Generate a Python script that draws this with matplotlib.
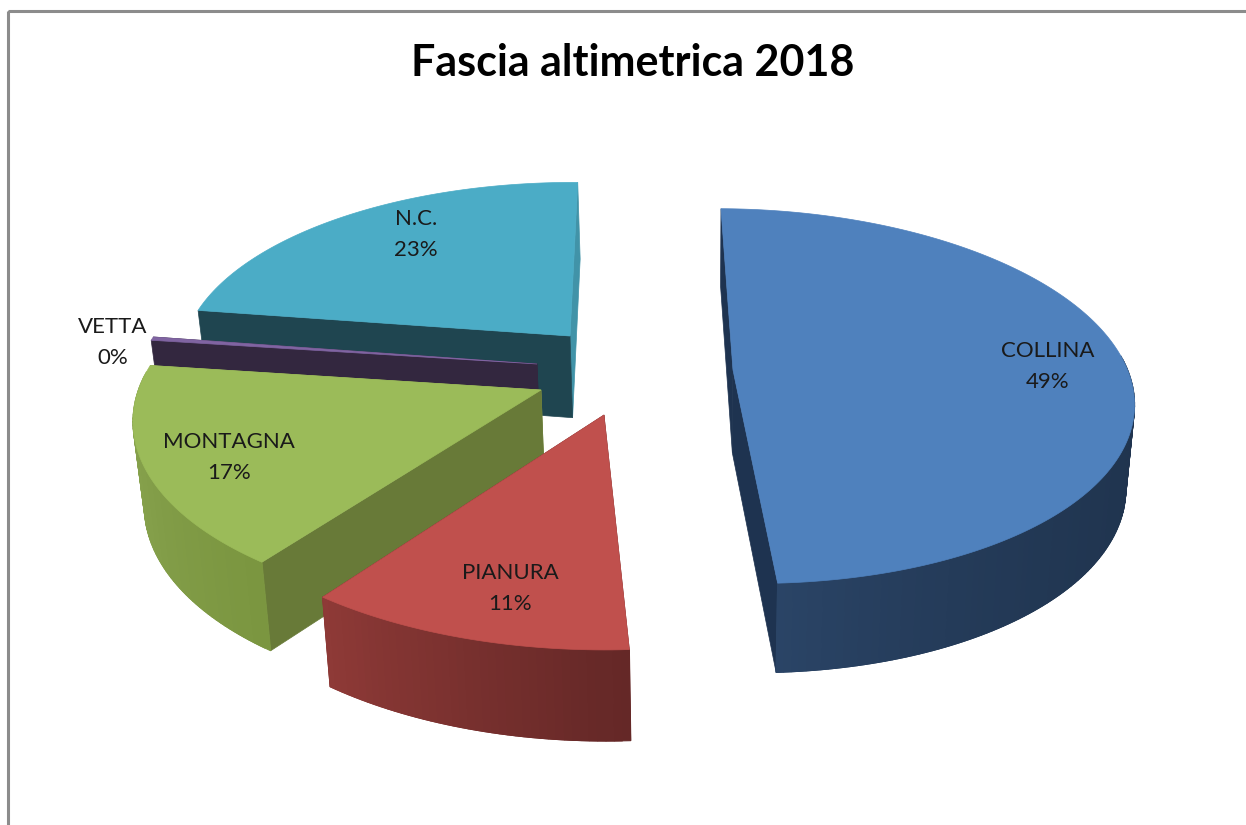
import numpy as np
import matplotlib
matplotlib.use("Agg")
import matplotlib.pyplot as plt
from matplotlib.patches import Polygon, Rectangle
from matplotlib.colors import to_rgb

title = "Fascia altimetrica 2018"
categories = ["COLLINA", "PIANURA", "MONTAGNA", "VETTA", "N.C."]
values = [49.0, 11.0, 16.9, 0.3, 22.8]

# styling / layout, per category
top_cols = ["#4F81BD", "#C0504D", "#9BBB59", "#8064A2", "#4BACC6"]
wall_start = ["#1F334D", "#652827", "#7B9640", "#33273F", "#1F4550"]   # outer wall, first angle
wall_end = ["#2A4466", "#8F3A37", "#8DA854", "#33273F", "#1F4550"]     # outer wall, last angle
wall_gamma = [5.0, 1.0, 1.0, 1.0, 1.0]
rad_start = ["#1E3350", "#652827", "#687A38", "#33273F", "#1F4550"]   # radial wall at start angle
rad_end = ["#1E3350", "#652827", "#8A9F55", "#33273F", "#4193A8"]      # radial wall at end angle
apex_px = [(733, 370), (604, 415), (541, 390), (537, 364), (570, 336)]
radius_scale = [1.0, 1.02, 1.005, 1.012, 1.0]
label_px = [(1048, 366.5), (510, 588.5), (229, 457.5), (113, 342.5), (416, 234.5)]
draw_order = [4, 3, 2, 1, 0]

CX, CY, A, B, K, H = 600.0, 378.0, 397.0, 186.0, 0.14, 83.0
VX, CONVERGE = 700.0, 0.02
ROTATION = np.radians(0.7)


def project(X, Y, z=0.0):
    s = 1.0 / (1.0 + K * Y)
    px = CX + A * X * s
    return px + z * CONVERGE * (VX - px), CY - B * Y * s + z * H * np.sqrt(s)


def unproject(px, py):
    v = (CY - py) / B
    Y = v / (1.0 - K * v)
    s = 1.0 / (1.0 + K * Y)
    return (px - CX) / (A * s), Y


def mix(c1, c2, t):
    a, b = np.array(to_rgb(c1)), np.array(to_rgb(c2))
    return tuple(a + (b - a) * t)


fig = plt.figure(figsize=(12.46, 8.25), dpi=100, facecolor="white")
ax = fig.add_axes([0, 0, 1, 1])
ax.set_xlim(0, 1246)
ax.set_ylim(825, 0)
ax.axis("off")

ax.add_patch(Rectangle((7.5, 10.5), 1300, 900, fill=False, ec="#8C8C8C", lw=2.2))

fracs = np.array(values) / sum(values)
edges = np.concatenate([[0.0], np.cumsum(fracs) * 2 * np.pi]) + ROTATION

for i in draw_order:
    t0, t1 = edges[i], edges[i + 1]
    x0, y0 = unproject(*apex_px[i])
    th = np.linspace(t0, t1, max(int((t1 - t0) * 60), 2))
    X = x0 + radius_scale[i] * np.sin(th)
    Y = y0 + radius_scale[i] * np.cos(th)
    # radial walls
    for (xe, ye), col in sorted(
        [((X[0], Y[0]), rad_start[i]), ((X[-1], Y[-1]), rad_end[i])],
        key=lambda q: -q[0][1],
    ):
        pts = [project(x0, y0), project(xe, ye), project(xe, ye, 1), project(x0, y0, 1)]
        ax.add_patch(Polygon(pts, closed=True, fc=col, ec=col, lw=0.5))
    # outer wall quads that face the viewer, far to near
    n = len(th) - 1
    order = np.argsort(-(Y[:-1] + Y[1:]))
    for j in order:
        if np.cos(0.5 * (th[j] + th[j + 1])) > 0.08:
            continue
        c = mix(wall_start[i], wall_end[i], (j / max(n - 1, 1)) ** wall_gamma[i])
        k = min(j + 2, n)
        pts = [project(X[j], Y[j]), project(X[k], Y[k]),
               project(X[k], Y[k], 1), project(X[j], Y[j], 1)]
        ax.add_patch(Polygon(pts, closed=True, fc=c, ec=c, lw=0.8))
    # top face
    top = [project(x0, y0)] + [project(a, b) for a, b in zip(X, Y)]
    ax.add_patch(Polygon(top, closed=True, fc=top_cols[i], ec=top_cols[i], lw=0.5))

for name, v, (lx, ly) in zip(categories, values, label_px):
    ax.text(lx, ly, f"{name}\n{round(v)}%", ha="center", va="center", fontsize=16,
            family="Lato", color="#1A1A1A", linespacing=1.7)

ax.text(633, 63, title, ha="center", va="center", fontsize=31, fontweight="bold",
        family="Lato", color="black")

fig.savefig("out.png", dpi=100, facecolor="white")
